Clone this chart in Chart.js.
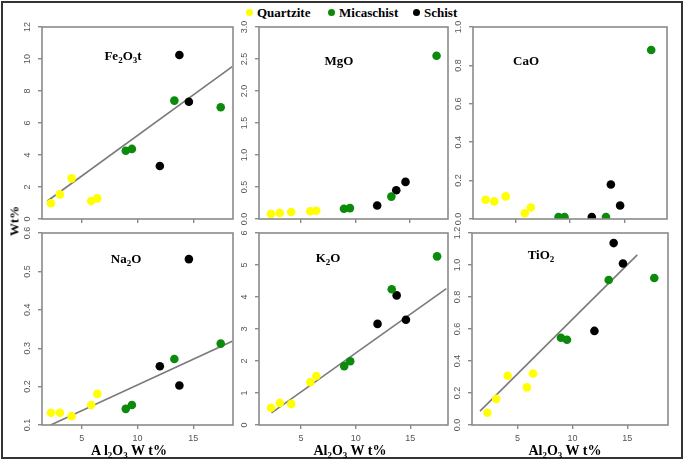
<!DOCTYPE html>
<html><head><meta charset="utf-8">
<script src="https://cdn.jsdelivr.net/npm/chart.js@4/dist/chart.umd.min.js"></script>
<style>
body{margin:0;background:#fff;width:685px;height:465px;position:relative;overflow:hidden;font-family:"Liberation Serif","Times New Roman",serif;}
.frame{position:absolute;left:1px;top:1px;width:682px;height:458px;border:2px solid #333;box-sizing:border-box;}
canvas{position:absolute;}
.t{position:absolute;font-weight:bold;white-space:nowrap;color:#000;transform:translate(-50%,-50%);line-height:1;}
.s{font-size:9px;position:relative;top:3px;}
.lg{position:absolute;top:6px;font-weight:bold;font-size:13px;line-height:14px;white-space:nowrap;}
.dot{display:inline-block;width:7px;height:7px;border-radius:50%;margin-right:4px;vertical-align:1px;}
</style></head><body>
<div class="frame"></div>
<div id="legend"></div>
<script>
// ---- data ----
const groups = ['Quartzite', 'Micaschist', 'Schist'];
const groupColors = ['#FFFF00', '#0B8A0B', '#000000'];
// Al2O3 (x, Wt%)
const al2o3Quartzite = [2.25, 3.05, 4.1, 5.85, 6.4];
const al2o3Micaschist = [8.95, 9.5, 13.3, 17.45];
const al2o3Schist = [12.0, 13.75, 14.6];
// oxides (y, Wt%)
const fe2o3Quartzite = [0.98, 1.54, 2.54, 1.12, 1.29];
const fe2o3Micaschist = [4.27, 4.38, 7.4, 6.98];
const fe2o3Schist = [3.31, 10.25, 7.33];
const mgoQuartzite = [0.08, 0.095, 0.11, 0.12, 0.13];
const mgoMicaschist = [0.16, 0.17, 0.35, 2.55];
const mgoSchist = [0.21, 0.45, 0.58];
const caoQuartzite = [0.10, 0.092, 0.118, 0.03, 0.06];
const caoMicaschist = [0.01, 0.01, 0.01, 0.88];
const caoSchist = [0.01, 0.18, 0.07];
const na2oQuartzite = [0.132, 0.132, 0.123, 0.152, 0.181];
const na2oMicaschist = [0.142, 0.152, 0.272, 0.312];
const na2oSchist = [0.253, 0.203, 0.532];
const k2oQuartzite = [0.54, 0.69, 0.66, 1.34, 1.53];
const k2oMicaschist = [1.84, 1.99, 4.24, 5.27];
const k2oSchist = [3.16, 4.05, 3.29];
const tio2Quartzite = [0.077, 0.163, 0.308, 0.235, 0.322];
const tio2Micaschist = [0.545, 0.533, 0.906, 0.919];
const tio2Schist = [0.588, 1.137, 1.009];
// regression line endpoints [x1, y1, x2, y2]
const fe2o3Trend = [1.93, 1.125, 18.48, 9.52];
const na2oTrend = [2.23, 0.1, 18.48, 0.318];
const k2oTrend = [2.3, 0.38, 18.3, 4.26];
const tio2Trend = [1.58, 0.087, 15.9, 1.063];
// tick labels
const xTickValues = [5, 10, 15];
const fe2o3YTicks = [0, 2, 4, 6, 8, 10, 12];
const mgoYTicks = [0, 0.5, 1, 1.5, 2, 2.5, 3];
const caoYTicks = [0, 0.2, 0.4, 0.6, 0.8, 1.0];
const na2oYTicks = [0.1, 0.2, 0.3, 0.4, 0.5, 0.6];
const k2oYTicks = [0, 1, 2, 3, 4, 5, 6];
const tio2YTicks = [0, 0.2, 0.4, 0.6, 0.8, 1.0, 1.2];

// ---- legend ----
const legendX = [246, 328, 413];
const lg = document.getElementById('legend');
groups.forEach((g, i) => {
  const d = document.createElement('div');
  d.className = 'lg';
  d.style.left = legendX[i] + 'px';
  d.innerHTML = '<span class="dot" style="background:' + groupColors[i] + '"></span>' + g;
  lg.appendChild(d);
});

function pts(xs, ys) { return xs.map((x, i) => ({ x: x, y: ys[i] })); }

const boxPlugin = {
  id: 'boxPlugin',
  afterDraw(chart) {
    const a = chart.chartArea, ctx = chart.ctx;
    ctx.save();
    ctx.strokeStyle = '#8a8a8a';
    ctx.lineWidth = 1.6;
    ctx.strokeRect(a.left, a.top, a.right - a.left, a.bottom - a.top);
    // rotated y tick labels (R style)
    const ys = chart.scales.y;
    ctx.fillStyle = '#555';
    ctx.font = '9px "Liberation Sans", Arial, sans-serif';
    ctx.textAlign = 'center';
    ctx.textBaseline = 'middle';
    ys.ticks.forEach(t => {
      const py = ys.getPixelForValue(t.value);
      ctx.save();
      ctx.translate(a.left - 14, py);
      ctx.rotate(-Math.PI / 2);
      ctx.fillText(t.label, 0, 0);
      ctx.restore();
    });
    ctx.restore();
  }
};

function makePanel(p) {
  const axisW = 34, padR = 6, padT = 10;
  const xH = p.showX ? 26 : 8;
  const w = (p.r - p.l) + axisW + padR;
  const h = (p.b - p.t) + padT + xH;
  const c = document.createElement('canvas');
  c.width = w; c.height = h;
  c.style.width = w + 'px'; c.style.height = h + 'px';
  c.style.left = (p.l - axisW) + 'px';
  c.style.top = (p.t - padT) + 'px';
  document.body.appendChild(c);
  const ds = [
    { label: groups[0], data: pts(al2o3Quartzite, p.q), backgroundColor: groupColors[0], order: 1 },
    { label: groups[1], data: pts(al2o3Micaschist, p.m), backgroundColor: groupColors[1], order: 1 },
    { label: groups[2], data: pts(al2o3Schist, p.s), backgroundColor: groupColors[2], order: 1 }
  ].map(d => Object.assign(d, { pointRadius: 4.3, pointBorderWidth: 0, pointHoverRadius: 4.3 }));
  if (p.trend) {
    ds.push({ type: 'line', label: 'fit', data: [{ x: p.trend[0], y: p.trend[1] }, { x: p.trend[2], y: p.trend[3] }],
      borderColor: '#7a7a7a', borderWidth: 1.6, pointRadius: 0, showLine: true, fill: false, order: 5 });
  }
  new Chart(c, {
    type: 'scatter',
    data: { datasets: ds },
    options: {
      responsive: false, animation: false, devicePixelRatio: 1,
      layout: { padding: { top: padT, right: padR, left: 0, bottom: 0 } },
      plugins: { legend: { display: false }, tooltip: { enabled: false } },
      scales: {
        x: {
          type: 'linear', min: p.xmin, max: p.xmax,
          afterBuildTicks: s => { s.ticks = xTickValues.map(v => ({ value: v })); },
          afterFit: s => { s.height = xH; },
          grid: { drawOnChartArea: false, drawTicks: true, tickLength: 4, color: '#8a8a8a', lineWidth: 1.4 },
          border: { display: false },
          ticks: { display: p.showX, color: '#555', padding: 4, maxRotation: 0, autoSkip: false,
            font: { size: 9, family: '"Liberation Sans", Arial, sans-serif' } }
        },
        y: {
          type: 'linear', min: p.ymin, max: p.ymax,
          afterBuildTicks: s => { s.ticks = p.yticks.map(v => ({ value: v })); },
          afterFit: s => { s.width = axisW; },
          grid: { drawOnChartArea: false, drawTicks: true, tickLength: 4, color: '#8a8a8a', lineWidth: 1.4 },
          border: { display: false },
          ticks: { display: false, callback: v => v.toFixed(p.dec) }
        }
      }
    },
    plugins: [boxPlugin]
  });
}

const topT = 27, topB = 219, botT = 233, botB = 425;
makePanel({ l: 42, r: 233, t: topT, b: topB, xmin: 1.45, xmax: 18.55, ymin: 0, ymax: 12, yticks: fe2o3YTicks, dec: 0, showX: false, q: fe2o3Quartzite, m: fe2o3Micaschist, s: fe2o3Schist, trend: fe2o3Trend });
makePanel({ l: 259, r: 448, t: topT, b: topB, xmin: 1.15, xmax: 18.5, ymin: 0, ymax: 3, yticks: mgoYTicks, dec: 1, showX: false, q: mgoQuartzite, m: mgoMicaschist, s: mgoSchist });
makePanel({ l: 473, r: 667, t: topT, b: topB, xmin: 1.1, xmax: 18.9, ymin: 0, ymax: 1, yticks: caoYTicks, dec: 1, showX: false, q: caoQuartzite, m: caoMicaschist, s: caoSchist });
makePanel({ l: 42, r: 233, t: botT, b: botB, xmin: 1.45, xmax: 18.55, ymin: 0.1, ymax: 0.6, yticks: na2oYTicks, dec: 1, showX: true, q: na2oQuartzite, m: na2oMicaschist, s: na2oSchist, trend: na2oTrend });
makePanel({ l: 259, r: 448, t: botT, b: botB, xmin: 1.15, xmax: 18.45, ymin: 0, ymax: 6, yticks: k2oYTicks, dec: 0, showX: true, q: k2oQuartzite, m: k2oMicaschist, s: k2oSchist, trend: k2oTrend });
makePanel({ l: 472, r: 668, t: botT, b: botB, xmin: 0.85, xmax: 18.7, ymin: 0, ymax: 1.2, yticks: tio2YTicks, dec: 1, showX: true, q: tio2Quartzite, m: tio2Micaschist, s: tio2Schist, trend: tio2Trend });

// ---- texts ----
const texts = [
  { html: 'Fe<span class="s">2</span>O<span class="s">3</span>t', x: 123, y: 55, size: 13 },
  { html: 'MgO', x: 339, y: 60, size: 13 },
  { html: 'CaO', x: 526, y: 60, size: 13 },
  { html: 'Na<span class="s">2</span>O', x: 126, y: 258, size: 13 },
  { html: 'K<span class="s">2</span>O', x: 328, y: 257, size: 13 },
  { html: 'TiO<span class="s">2</span>', x: 541, y: 254, size: 13 },
  { html: 'A l<span class="s">2</span>O<span class="s">3</span> W t%', x: 129, y: 451, size: 14 },
  { html: 'Al<span class="s">2</span>O<span class="s">3</span> W t%', x: 350, y: 451, size: 14 },
  { html: 'Al<span class="s">2</span>O<span class="s">3</span> W t%', x: 565, y: 451, size: 14 }
];
texts.forEach(t => {
  const d = document.createElement('div');
  d.className = 't';
  d.style.left = t.x + 'px'; d.style.top = t.y + 'px'; d.style.fontSize = t.size + 'px';
  d.innerHTML = t.html;
  document.body.appendChild(d);
});
const wt = document.createElement('div');
wt.className = 't';
wt.style.left = '14px'; wt.style.top = '221px'; wt.style.fontSize = '13px';
wt.style.transform = 'translate(-50%,-50%) rotate(-90deg)';
wt.textContent = 'Wt%';
document.body.appendChild(wt);
</script>
</body></html>
